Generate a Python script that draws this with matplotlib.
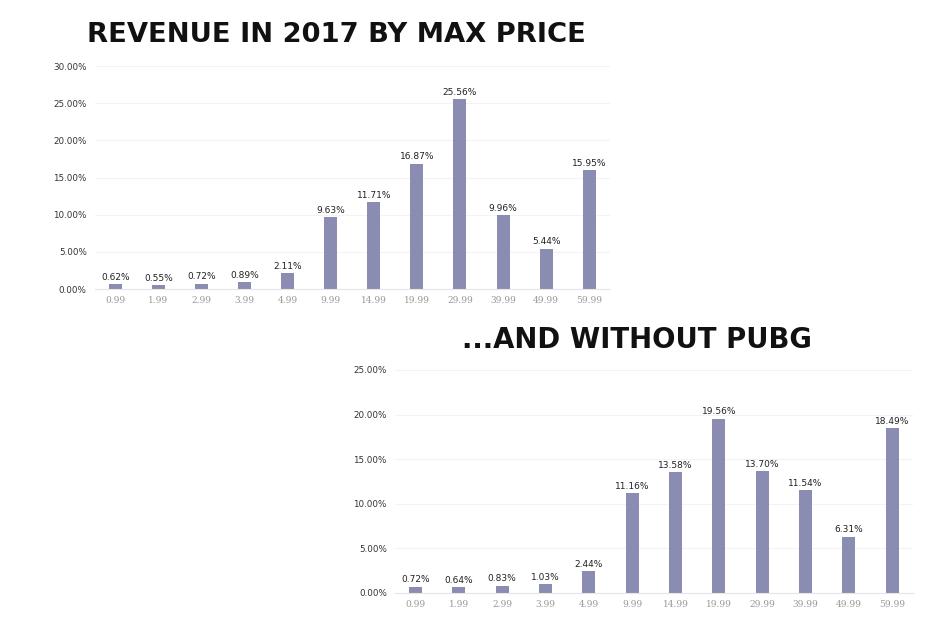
import matplotlib
matplotlib.use("Agg")
import matplotlib.pyplot as plt
from matplotlib.ticker import FuncFormatter

prices = ["0.99", "1.99", "2.99", "3.99", "4.99", "9.99", "14.99",
          "19.99", "29.99", "39.99", "49.99", "59.99"]
revenue_all = [0.62, 0.55, 0.72, 0.89, 2.11, 9.63, 11.71, 16.87, 25.56, 9.96, 5.44, 15.95]
revenue_no_pubg = [0.72, 0.64, 0.83, 1.03, 2.44, 11.16, 13.58, 19.56, 13.70, 11.54, 6.31, 18.49]

bar_color = "#8a8db1"

fig = plt.figure(figsize=(9.5, 6.33), dpi=100)

def draw(ax, vals, ymax):
    x = range(len(vals))
    ax.bar(x, vals, width=0.3, color=bar_color, zorder=2)
    for i, v in enumerate(vals):
        ax.text(i, v + ymax * 0.01, f"{v:.2f}%", ha="center", va="bottom",
                fontsize=6.5, color="#222222")
    ax.set_xlim(-0.47, len(vals) - 0.52)
    ax.set_ylim(0, ymax)
    ax.set_yticks(range(0, ymax + 1, 5))
    ax.yaxis.set_major_formatter(FuncFormatter(lambda v, p: f"{v:.2f}%"))
    ax.set_xticks(list(x))
    ax.set_xticklabels(prices, fontsize=6.5, color="#999999", family="serif")
    ax.tick_params(axis="y", labelsize=6.3, labelcolor="#333333", length=0, pad=6)
    ax.tick_params(axis="x", length=0, pad=5)
    ax.grid(axis="y", color="#f3f3f3", linewidth=0.8, zorder=0)
    for s in ["top", "right", "left"]:
        ax.spines[s].set_visible(False)
    ax.spines["bottom"].set_color("#e6e6e6")

ax1 = fig.add_axes([0.1, 0.5434, 0.542, 0.3523])
draw(ax1, revenue_all, 30)
ax2 = fig.add_axes([0.416, 0.0632, 0.545, 0.3523])
draw(ax2, revenue_no_pubg, 25)

fig.text(336 / 950, 1 - 35 / 633, "REVENUE IN 2017 BY MAX PRICE", ha="center", va="center",
         fontsize=19.7, fontweight="bold", family="DejaVu Sans", color="#111111")
fig.text(637 / 950, 1 - 340 / 633, "...AND WITHOUT PUBG", ha="center", va="center",
         fontsize=19.8, fontweight="bold", family="DejaVu Sans", color="#111111")

fig.savefig("out.png", dpi=100, facecolor="white")
